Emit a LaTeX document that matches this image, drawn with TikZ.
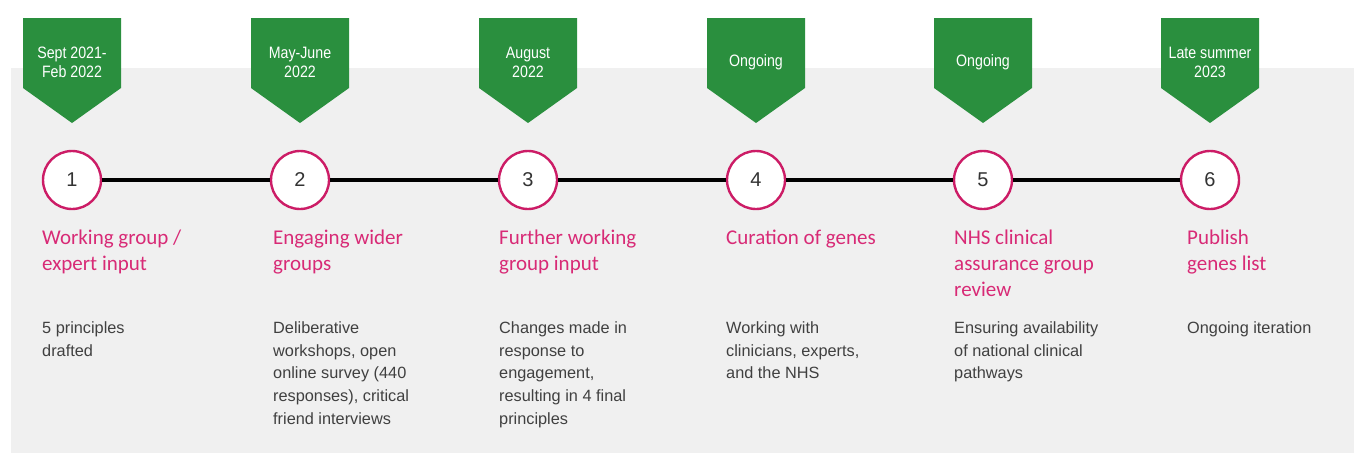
\documentclass[tikz,border=0pt]{standalone}
\usepackage{fontspec}
\setmainfont{Liberation Sans}
\newfontfamily\titlefont{Carlito}
\newfontfamily\bannerfont{Liberation Sans}[FakeStretch=0.86]
\definecolor{bggray}{HTML}{F0F0F0}
\definecolor{bannergreen}{HTML}{2A8F3E}
\definecolor{titlepink}{HTML}{D82A76}
\definecolor{ringpink}{HTML}{CC1C66}
\definecolor{bodygray}{HTML}{404040}
\definecolor{numgray}{HTML}{333333}
\tikzset{
  stepcircle/.style={circle, draw=ringpink, line width=2.4pt, fill=white, minimum size=58pt, inner sep=0pt,
    font=\fontsize{20}{24}\selectfont, text=numgray},
  bannertext/.style={text=white, align=center, inner sep=0pt, font=\bannerfont\fontsize{16.5}{19}\selectfont},
  titletext/.style={text=titlepink, align=left, anchor=north west, inner sep=0pt, font=\titlefont\fontsize{21}{26}\selectfont},
  bodytext/.style={text=bodygray, align=left, anchor=north west, inner sep=0pt, font=\fontsize{16.3}{22.8}\selectfont},
  timeline/.style={line width=4pt, black},
  bannershape/.style={fill=bannergreen}
}
\newcommand{\tstrut}{\rule{0pt}{16pt}}
\newcommand{\bstrut}{\rule{0pt}{13pt}}
\begin{document}
\begin{tikzpicture}[x=1pt,y=-1pt]
\useasboundingbox (0,0) rectangle (1354,453);
\fill[bggray] (11,68) rectangle (1354,453);
\foreach \i/\cx/\tx/\date/\title/\body in {
  1/72/42/{Sept 2021-\\Feb 2022}/{Working group /\\expert input}/{5 principles\\drafted},
  2/300/273/{May-June\\2022}/{Engaging wider\\groups}/{Deliberative\\workshops, open\\online survey (440\\responses), critical\\friend interviews},
  3/528/499/{August\\2022}/{Further working\\group input}/{Changes made in\\response to\\engagement,\\resulting in 4 final\\principles},
  4/756/726/{Ongoing}/{Curation of genes}/{Working with\\clinicians, experts,\\and the NHS},
  5/983/954/{Ongoing}/{NHS clinical\\assurance group\\review}/{Ensuring availability\\of national clinical\\pathways},
  6/1210/1187/{Late summer\\2023}/{Publish\\genes list}/{Ongoing iteration}}{
  \fill[bannershape] (\cx-49,18) -- (\cx+49,18) -- (\cx+49,88) -- (\cx,123) -- (\cx-49,88) -- cycle;
  \node[bannertext] (b\i) at (\cx,62.5) {\date};
  \node[stepcircle] (c\i) at (\cx,180) {\i};
  \node[titletext] (t\i) at (\tx,244-16) {\tstrut\title};
  \node[bodytext] (d\i) at (\tx,333-13) {\bstrut\body};
}
\foreach \a/\b in {1/2,2/3,3/4,4/5,5/6}{
  \draw[timeline] (c\a) -- (c\b);
}
\end{tikzpicture}
\end{document}
